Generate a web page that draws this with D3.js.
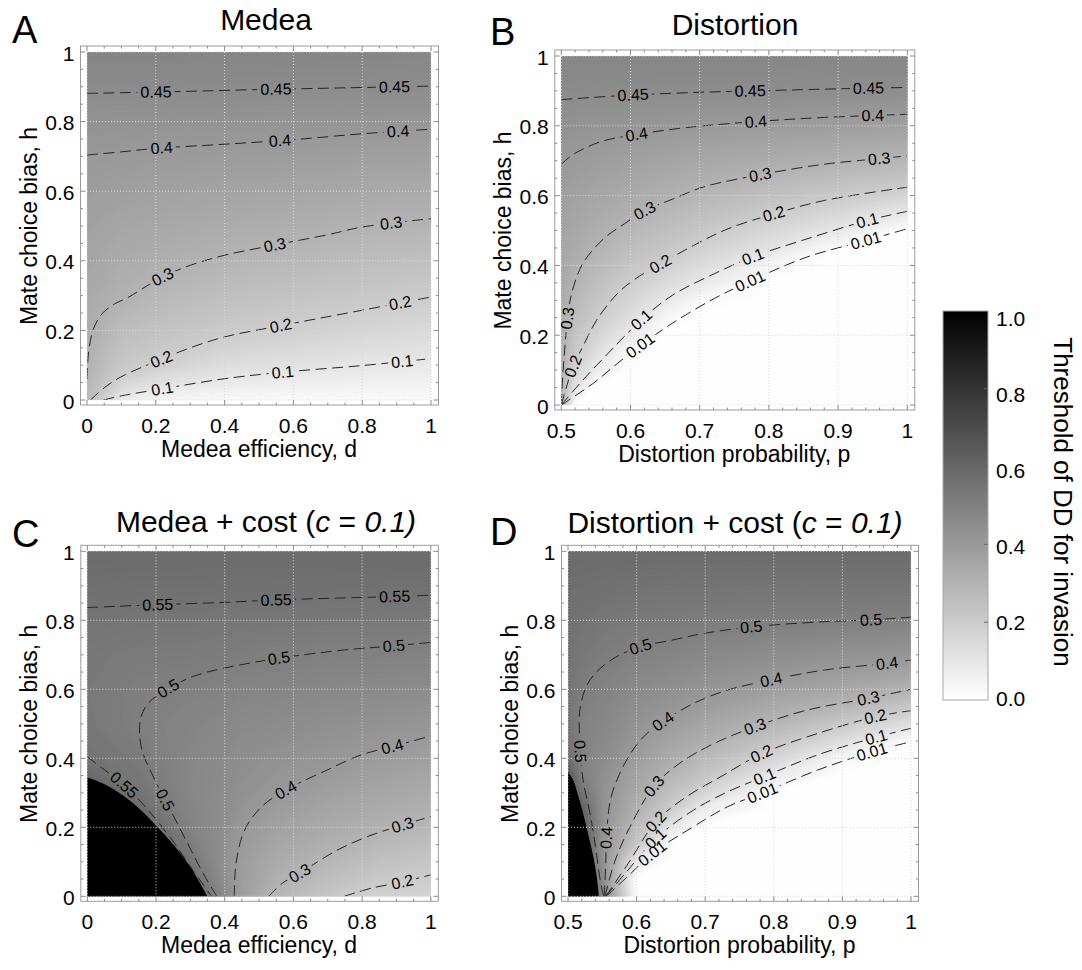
<!DOCTYPE html>
<html>
<head>
<meta charset="utf-8">
<title>Threshold of DD for invasion</title>
<script src="https://cdn.jsdelivr.net/npm/d3@7/dist/d3.min.js"></script>
<style>
  body { margin: 0; background: #ffffff; }
  svg text { font-family: "Liberation Sans", Arial, Helvetica, sans-serif; fill: #000; }
</style>
</head>
<body>
<svg id="chart" width="1082" height="970"></svg>
<script>
// ---------- values ----------

// ticks
var hTicks = [0, 0.2, 0.4, 0.6, 0.8, 1];
var hTickLabels = ["0", "0.2", "0.4", "0.6", "0.8", "1"];
var dTicks = [0, 0.2, 0.4, 0.6, 0.8, 1];
var dTickLabels = ["0", "0.2", "0.4", "0.6", "0.8", "1"];
var pTicks = [0.5, 0.6, 0.7, 0.8, 0.9, 1];
var pTickLabels = ["0.5", "0.6", "0.7", "0.8", "0.9", "1"];
var barTicks = [0, 0.2, 0.4, 0.6, 0.8, 1];
var barTickLabels = ["0.0", "0.2", "0.4", "0.6", "0.8", "1.0"];

// A: Medea. threshold sampled at (d, h), one row per h
var medeaD = [0, 0.1, 0.2, 0.4, 0.6, 0.8, 1];
var medeaH = [0, 0.05, 0.1, 0.15, 0.2, 0.3, 0.4, 0.5, 0.6, 0.7, 0.8, 0.9, 1];
var medeaGrid = [
  [0.28, 0.08, 0.04, 0.025, 0.02, 0.02, 0.02],
  [0.29, 0.17, 0.126, 0.086, 0.071, 0.06, 0.054],
  [0.305, 0.216, 0.188, 0.133, 0.115, 0.1, 0.087],
  [0.312, 0.239, 0.217, 0.174, 0.151, 0.132, 0.117],
  [0.32, 0.263, 0.239, 0.208, 0.186, 0.164, 0.146],
  [0.336, 0.305, 0.282, 0.251, 0.234, 0.218, 0.202],
  [0.352, 0.328, 0.315, 0.293, 0.276, 0.259, 0.246],
  [0.368, 0.351, 0.341, 0.326, 0.315, 0.301, 0.291],
  [0.384, 0.374, 0.368, 0.358, 0.349, 0.338, 0.331],
  [0.40, 0.397, 0.394, 0.389, 0.384, 0.376, 0.37],
  [0.427, 0.426, 0.424, 0.421, 0.418, 0.413, 0.409],
  [0.455, 0.455, 0.455, 0.453, 0.452, 0.451, 0.449],
  [0.48, 0.48, 0.48, 0.478, 0.477, 0.476, 0.475]
];
var medeaLines = [
  { level: "0.45", pts: [[0, 0.881], [0.25, 0.886], [0.5, 0.892], [0.75, 0.897], [1, 0.902]],
    at: [[0.2, 0.885], [0.55, 0.892], [0.895, 0.9]] },
  { level: "0.4", pts: [[0, 0.704], [0.1, 0.713], [0.2, 0.723], [0.4, 0.735], [0.6, 0.748], [0.8, 0.765], [1, 0.778]],
    at: [[0.218, 0.724], [0.56, 0.75], [0.906, 0.772]] },
  { level: "0.3", pts: [[0, 0.06], [0.005, 0.14], [0.019, 0.205], [0.044, 0.248], [0.08, 0.276], [0.118, 0.294], [0.218, 0.353],
      [0.3, 0.387], [0.4, 0.416], [0.544, 0.445], [0.7, 0.475], [0.8, 0.497], [1, 0.521]],
    at: [[0.218, 0.353], [0.544, 0.445], [0.886, 0.508]] },
  { level: "0.2", pts: [[0.01, 0], [0.05, 0.035], [0.098, 0.066], [0.218, 0.118], [0.3, 0.15], [0.399, 0.181], [0.565, 0.214],
      [0.8, 0.258], [1, 0.296]],
    at: [[0.218, 0.118], [0.565, 0.214], [0.911, 0.28]] },
  { level: "0.1", pts: [[0.048, 0], [0.1, 0.012], [0.218, 0.032], [0.399, 0.061], [0.57, 0.08], [0.8, 0.099], [1, 0.119]],
    at: [[0.218, 0.032], [0.57, 0.08], [0.916, 0.11]] }
];

// B: Distortion
var distP = [0.5, 0.52, 0.55, 0.6, 0.65, 0.7, 0.8, 0.9, 1];
var distH = [0, 0.05, 0.1, 0.15, 0.2, 0.25, 0.3, 0.35, 0.4, 0.45, 0.5, 0.55, 0.6, 0.65, 0.7, 0.8, 0.9, 1];
var distGrid = [
  [0.30, 0, 0, 0, 0, 0, 0, 0, 0],
  [0.30, 0.105, 0.005, 0, 0, 0, 0, 0, 0],
  [0.305, 0.166, 0.08, 0, 0, 0, 0, 0, 0],
  [0.31, 0.21, 0.132, 0.012, 0, 0, 0, 0, 0],
  [0.315, 0.232, 0.17, 0.079, 0, 0, 0, 0, 0],
  [0.32, 0.255, 0.205, 0.125, 0.038, 0, 0, 0, 0],
  [0.328, 0.277, 0.229, 0.161, 0.096, 0.028, 0, 0, 0],
  [0.335, 0.30, 0.253, 0.196, 0.143, 0.092, 0, 0, 0],
  [0.343, 0.313, 0.276, 0.226, 0.189, 0.14, 0.038, 0, 0],
  [0.35, 0.327, 0.30, 0.254, 0.222, 0.185, 0.11, 0.012, 0],
  [0.357, 0.34, 0.317, 0.283, 0.252, 0.222, 0.158, 0.095, 0.003],
  [0.365, 0.354, 0.334, 0.308, 0.281, 0.254, 0.206, 0.153, 0.091],
  [0.375, 0.367, 0.35, 0.329, 0.309, 0.287, 0.247, 0.208, 0.165],
  [0.388, 0.381, 0.367, 0.349, 0.333, 0.316, 0.288, 0.257, 0.229],
  [0.401, 0.394, 0.384, 0.37, 0.357, 0.344, 0.324, 0.305, 0.284],
  [0.43, 0.425, 0.419, 0.412, 0.405, 0.399, 0.39, 0.381, 0.372],
  [0.455, 0.455, 0.452, 0.451, 0.45, 0.45, 0.449, 0.446, 0.443],
  [0.475, 0.475, 0.475, 0.475, 0.475, 0.475, 0.475, 0.47, 0.47]
];
var distLines = [
  { level: "0.45", pts: [[0.5, 0.875], [0.55, 0.882], [0.6, 0.888], [0.7, 0.896], [0.8, 0.901], [0.9, 0.906], [1, 0.91]],
    at: [[0.604, 0.889], [0.773, 0.9], [0.945, 0.907]] },
  { level: "0.4", pts: [[0.5, 0.69], [0.515, 0.715], [0.531, 0.733], [0.561, 0.757], [0.609, 0.775], [0.681, 0.795],
      [0.781, 0.812], [0.88, 0.824], [1, 0.833]],
    at: [[0.609, 0.775], [0.781, 0.812], [0.95, 0.829]] },
  { level: "0.3", pts: [[0.5, 0], [0.502, 0.08], [0.505, 0.16], [0.509, 0.25], [0.515, 0.32], [0.531, 0.405], [0.561, 0.476],
      [0.591, 0.519], [0.621, 0.557], [0.661, 0.59], [0.706, 0.625], [0.788, 0.66], [0.88, 0.69], [0.96, 0.706], [1, 0.714]],
    at: [[0.509, 0.25], [0.621, 0.557], [0.788, 0.66], [0.96, 0.706]] },
  { level: "0.2", pts: [[0.5, 0], [0.508, 0.055], [0.517, 0.11], [0.531, 0.167], [0.551, 0.243], [0.581, 0.319], [0.606, 0.36],
      [0.644, 0.405], [0.691, 0.457], [0.741, 0.505], [0.808, 0.548], [0.88, 0.586], [1, 0.624]],
    at: [[0.517, 0.11], [0.644, 0.405], [0.808, 0.548]] },
  { level: "0.1", pts: [[0.5, 0], [0.531, 0.071], [0.571, 0.155], [0.616, 0.245], [0.661, 0.315], [0.721, 0.376], [0.776, 0.424],
      [0.855, 0.476], [0.943, 0.529], [1, 0.555]],
    at: [[0.616, 0.245], [0.776, 0.424], [0.943, 0.529]] },
  { level: "0.01", pts: [[0.5, 0], [0.546, 0.062], [0.581, 0.119], [0.614, 0.17], [0.661, 0.235], [0.721, 0.305], [0.773, 0.355],
      [0.855, 0.424], [0.94, 0.471], [1, 0.505]],
    at: [[0.614, 0.17], [0.773, 0.355], [0.94, 0.471]] }
];

// C: Medea + cost
var medeaCostD = [0, 0.15, 0.3, 0.38, 0.45, 0.55, 0.7, 0.85, 1];
var medeaCostH = [0, 0.1, 0.2, 0.3, 0.4, 0.5, 0.6, 0.7, 0.8, 0.9, 1];
var medeaCostGrid = [
  [0.65, 0.62, 0.62, 0.49, 0.378, 0.29, 0.222, 0.18, 0.17],
  [0.65, 0.62, 0.54, 0.45, 0.385, 0.329, 0.285, 0.246, 0.222],
  [0.65, 0.62, 0.488, 0.45, 0.402, 0.367, 0.332, 0.307, 0.282],
  [0.63, 0.544, 0.472, 0.455, 0.43, 0.405, 0.373, 0.348, 0.329],
  [0.552, 0.518, 0.472, 0.46, 0.445, 0.428, 0.41, 0.39, 0.372],
  [0.53, 0.50, 0.48, 0.47, 0.46, 0.453, 0.438, 0.426, 0.413],
  [0.525, 0.505, 0.495, 0.488, 0.48, 0.478, 0.467, 0.459, 0.45],
  [0.53, 0.52, 0.517, 0.513, 0.507, 0.503, 0.496, 0.493, 0.487],
  [0.545, 0.54, 0.54, 0.537, 0.535, 0.533, 0.529, 0.526, 0.523],
  [0.565, 0.562, 0.562, 0.56, 0.558, 0.56, 0.558, 0.557, 0.556],
  [0.58, 0.58, 0.58, 0.58, 0.58, 0.58, 0.58, 0.58, 0.58]
];
// no invasion (threshold 1) below this edge
var medeaCostBlack = [[0, 0.345], [0.05, 0.325], [0.1, 0.295], [0.15, 0.255], [0.2, 0.205], [0.25, 0.15], [0.3, 0.085], [0.35, 0]];
var medeaCostLines = [
  { level: "0.55", pts: [[0, 0.837], [0.2, 0.845], [0.4, 0.852], [0.55, 0.859], [0.75, 0.865], [0.9, 0.869], [1, 0.873]],
    at: [[0.207, 0.844], [0.548, 0.859], [0.894, 0.868]] },
  { level: "0.5", pts: [[0.377, 0], [0.337, 0.067], [0.287, 0.163], [0.227, 0.279], [0.187, 0.357], [0.162, 0.414], [0.152, 0.472],
      [0.157, 0.521], [0.177, 0.559], [0.237, 0.603], [0.307, 0.637], [0.397, 0.661], [0.558, 0.69], [0.749, 0.714],
      [0.894, 0.726], [1, 0.736]],
    at: [[0.227, 0.279], [0.237, 0.603], [0.558, 0.69], [0.894, 0.726]] },
  { level: "0.55", pts: [[0, 0.405], [0.037, 0.376], [0.107, 0.323], [0.177, 0.25], [0.247, 0.163], [0.307, 0.076], [0.362, 0]],
    at: [[0.107, 0.323]] },
  { level: "0.4", pts: [[0.428, 0], [0.433, 0.096], [0.458, 0.192], [0.508, 0.26], [0.578, 0.308], [0.698, 0.366], [0.798, 0.41],
      [0.889, 0.434], [1, 0.465]],
    at: [[0.578, 0.308], [0.889, 0.434]] },
  { level: "0.3", pts: [[0.528, 0], [0.568, 0.038], [0.618, 0.067], [0.728, 0.134], [0.829, 0.178], [0.919, 0.207], [1, 0.231]],
    at: [[0.618, 0.067], [0.919, 0.207]] },
  { level: "0.2", pts: [[0.748, 0], [0.829, 0.024], [0.919, 0.042], [1, 0.062]],
    at: [[0.919, 0.042]] }
];

// D: Distortion + cost
var distCostP = [0.5, 0.52, 0.55, 0.6, 0.65, 0.7, 0.8, 0.9, 1];
var distCostH = [0, 0.05, 0.1, 0.15, 0.2, 0.25, 0.3, 0.35, 0.4, 0.45, 0.5, 0.55, 0.6, 0.65, 0.7, 0.8, 0.9, 1];
var distCostGrid = [
  [0.65, 0.65, 0.50, 0, 0, 0, 0, 0, 0],
  [0.65, 0.65, 0.457, 0, 0, 0, 0, 0, 0],
  [0.65, 0.65, 0.433, 0.084, 0, 0, 0, 0, 0],
  [0.65, 0.65, 0.428, 0.218, 0.005, 0, 0, 0, 0],
  [0.65, 0.65, 0.427, 0.267, 0.1, 0, 0, 0, 0],
  [0.65, 0.62, 0.434, 0.308, 0.196, 0.065, 0, 0, 0],
  [0.65, 0.55, 0.434, 0.333, 0.243, 0.162, 0, 0, 0],
  [0.65, 0.50, 0.44, 0.358, 0.288, 0.228, 0.084, 0, 0],
  [0.57, 0.49, 0.455, 0.383, 0.324, 0.274, 0.162, 0.031, 0],
  [0.55, 0.488, 0.463, 0.405, 0.356, 0.315, 0.229, 0.13, 0.015],
  [0.545, 0.49, 0.473, 0.423, 0.387, 0.35, 0.289, 0.211, 0.125],
  [0.54, 0.497, 0.48, 0.44, 0.414, 0.385, 0.334, 0.286, 0.219],
  [0.54, 0.51, 0.488, 0.458, 0.436, 0.415, 0.376, 0.34, 0.30],
  [0.54, 0.52, 0.497, 0.476, 0.459, 0.441, 0.414, 0.389, 0.359],
  [0.545, 0.53, 0.51, 0.493, 0.481, 0.467, 0.446, 0.428, 0.412],
  [0.555, 0.548, 0.535, 0.523, 0.518, 0.512, 0.505, 0.501, 0.493],
  [0.567, 0.565, 0.56, 0.552, 0.549, 0.546, 0.543, 0.54, 0.537],
  [0.58, 0.58, 0.58, 0.58, 0.58, 0.58, 0.58, 0.58, 0.58]
];
var distCostBlack = [[0.5, 0.36], [0.508, 0.335], [0.515, 0.29], [0.522, 0.241], [0.53, 0.175], [0.537, 0.115], [0.542, 0.055], [0.545, 0]];
var distCostLines = [
  { level: "0.5", pts: [[0.552, 0], [0.547, 0.047], [0.54, 0.144], [0.532, 0.241], [0.522, 0.337], [0.517, 0.45], [0.518, 0.55],
      [0.532, 0.627], [0.563, 0.685], [0.605, 0.723], [0.653, 0.743], [0.698, 0.762], [0.768, 0.781], [0.874, 0.796],
      [0.941, 0.801], [1, 0.809]],
    at: [[0.519, 0.42], [0.605, 0.723], [0.768, 0.781], [0.941, 0.801]] },
  { level: "0.4", pts: [[0.553, 0], [0.555, 0.096], [0.556, 0.17], [0.563, 0.289], [0.583, 0.386], [0.608, 0.458], [0.638, 0.506],
      [0.683, 0.559], [0.733, 0.598], [0.796, 0.627], [0.874, 0.656], [0.964, 0.675], [1, 0.685]],
    at: [[0.556, 0.17], [0.638, 0.506], [0.796, 0.627], [0.964, 0.675]] },
  { level: "0.3", pts: [[0.554, 0], [0.568, 0.1], [0.59, 0.2], [0.625, 0.318], [0.663, 0.386], [0.713, 0.443], [0.773, 0.492],
      [0.849, 0.54], [0.939, 0.574], [1, 0.6]],
    at: [[0.625, 0.318], [0.773, 0.492], [0.939, 0.574]] },
  { level: "0.2", pts: [[0.555, 0], [0.588, 0.096], [0.628, 0.216], [0.673, 0.289], [0.723, 0.347], [0.783, 0.414], [0.864, 0.472],
      [0.949, 0.521], [1, 0.538]],
    at: [[0.628, 0.216], [0.783, 0.414], [0.949, 0.521]] },
  { level: "0.1", pts: [[0.555, 0], [0.585, 0.07], [0.628, 0.168], [0.683, 0.25], [0.733, 0.303], [0.786, 0.347], [0.864, 0.41],
      [0.949, 0.461], [1, 0.487]],
    at: [[0.628, 0.168], [0.786, 0.347], [0.949, 0.461]] },
  { level: "0.01", pts: [[0.556, 0], [0.592, 0.067], [0.623, 0.125], [0.683, 0.202], [0.733, 0.26], [0.783, 0.299], [0.864, 0.366],
      [0.944, 0.419], [1, 0.448]],
    at: [[0.623, 0.125], [0.783, 0.299], [0.944, 0.419]] }
];

// ---------- layout ----------
var W = 1082, H = 970;

var panels = [
  { key: "A", letter: "A", letterAt: [12, 43], title: [["Medea", false]], titleAt: [266, 30],
    xTitle: "Medea efficiency, d", xDomain: [0, 1], xTicks: dTicks, xTickLabels: dTickLabels, xMinor: 0.05,
    box: [87, 52, 431, 400], cols: medeaD, rows: medeaH, grid: medeaGrid, lines: medeaLines },
  { key: "B", letter: "B", letterAt: [490, 45], title: [["Distortion", false]], titleAt: [735, 35],
    xTitle: "Distortion probability, p", xDomain: [0.5, 1], xTicks: pTicks, xTickLabels: pTickLabels, xMinor: 0.02,
    box: [561.3, 56, 907.3, 405], cols: distP, rows: distH, grid: distGrid, lines: distLines },
  { key: "C", letter: "C", letterAt: [12, 547],
    title: [["Medea + cost (", false], ["c", true], [" = ", false], ["0.1)", true]], titleAt: [266, 532],
    xTitle: "Medea efficiency, d", xDomain: [0, 1], xTicks: dTicks, xTickLabels: dTickLabels, xMinor: 0.05,
    box: [87.3, 551.3, 430.8, 896.3], cols: medeaCostD, rows: medeaCostH, grid: medeaCostGrid, lines: medeaCostLines,
    black: medeaCostBlack, blackCorner: [0, 0] },
  { key: "D", letter: "D", letterAt: [490, 545],
    title: [["Distortion + cost (", false], ["c", true], [" = ", false], ["0.1)", true]], titleAt: [735, 533],
    xTitle: "Distortion probability, p", xDomain: [0.5, 1], xTicks: pTicks, xTickLabels: pTickLabels, xMinor: 0.02,
    box: [568, 551.3, 911, 896.3], cols: distCostP, rows: distCostH, grid: distCostGrid, lines: distCostLines,
    black: distCostBlack, blackCorner: [0.5, 0] }
];

var svg = d3.select("#chart");
var defs = svg.append("defs");
svg.append("rect").attr("width", W).attr("height", H).attr("fill", "#ffffff");

var shade = d3.scaleLinear().domain([0, 1]).range(["#ffffff", "#000000"]).clamp(true);
var step = 0.005;
var levels = d3.range(0, 1, step);

panels.forEach(drawPanel);
drawColorBar();

// closest point of a drawn path to a target, with the local direction for the label
function nearestOnPath(node, target) {
  var len = node.getTotalLength(), best = 0, bestD = Infinity;
  for (var s = 0; s <= len; s += 1.5) {
    var p = node.getPointAtLength(s);
    var dd = (p.x - target[0]) * (p.x - target[0]) + (p.y - target[1]) * (p.y - target[1]);
    if (dd < bestD) { bestD = dd; best = s; }
  }
  var pt = node.getPointAtLength(best);
  var a = node.getPointAtLength(Math.max(0, best - 5));
  var b = node.getPointAtLength(Math.min(len, best + 5));
  var ang = Math.atan2(b.y - a.y, b.x - a.x) * 180 / Math.PI;
  if (ang > 90) ang -= 180;
  if (ang < -90) ang += 180;
  return { x: pt.x, y: pt.y, angle: ang };
}

function drawPanel(pn) {
  var x = d3.scaleLinear().domain(pn.xDomain).range([pn.box[0], pn.box[2]]);
  var y = d3.scaleLinear().domain([0, 1]).range([pn.box[3], pn.box[1]]);
  var fr = [pn.box[0] - 6.5, pn.box[1] - 6, pn.box[2] + 7.5, pn.box[3] + 5];
  var g = svg.append("g").attr("class", "panel panel-" + pn.key);

  var clipId = "clip-" + pn.key;
  defs.append("clipPath").attr("id", clipId).append("rect")
      .attr("x", pn.box[0]).attr("y", pn.box[1])
      .attr("width", pn.box[2] - pn.box[0]).attr("height", pn.box[3] - pn.box[1]);
  var plot = g.append("g").attr("clip-path", "url(#" + clipId + ")");

  // density: filled contour bands of the sampled grid (grid cell i sits at i + 0.5)
  var nx = pn.cols.length, ny = pn.rows.length;
  var colAt = d3.scaleLinear().domain(d3.range(nx).map(function(i) { return i + 0.5; })).range(pn.cols).clamp(true);
  var rowAt = d3.scaleLinear().domain(d3.range(ny).map(function(j) { return j + 0.5; })).range(pn.rows).clamp(true);
  var toScreen = d3.geoTransform({
    point: function(px, py) { this.stream.point(x(colAt(px)), y(rowAt(py))); }
  });
  var geo = d3.geoPath(toScreen);
  var values = [].concat.apply([], pn.grid);
  var bands = d3.contours().size([nx, ny]).thresholds(levels)(values);

  plot.append("g").attr("class", "bands")
    .selectAll("path")
    .data(bands)
    .enter().append("path")
      .attr("d", geo)
      .attr("fill", function(d) { return shade(d.value + step / 2); });

  // no-invasion area
  if (pn.black) {
    var edge = d3.line().x(function(d) { return x(d[0]); }).y(function(d) { return y(d[1]); }).curve(d3.curveCatmullRom);
    plot.append("path")
        .attr("d", edge(pn.black) + "L" + x(pn.blackCorner[0]) + "," + y(pn.blackCorner[1]) + "Z")
        .attr("fill", "#000000");
  }

  // dotted grid
  var grid = g.append("g").attr("class", "grid")
      .attr("stroke", "#d6d6d6").attr("stroke-width", 1).attr("stroke-dasharray", "1,2");
  pn.xTicks.forEach(function(v) {
    grid.append("line").attr("x1", x(v)).attr("x2", x(v)).attr("y1", pn.box[1]).attr("y2", pn.box[3]);
  });
  hTicks.forEach(function(v) {
    grid.append("line").attr("x1", pn.box[0]).attr("x2", pn.box[2]).attr("y1", y(v)).attr("y2", y(v));
  });

  // dashed contour lines, with a gap under each label
  var maskId = "mask-" + pn.key;
  var mask = defs.append("mask").attr("id", maskId).attr("maskUnits", "userSpaceOnUse")
      .attr("x", 0).attr("y", 0).attr("width", W).attr("height", H);
  mask.append("rect").attr("width", W).attr("height", H).attr("fill", "#ffffff");

  var lineGen = d3.line()
      .x(function(d) { return x(d[0]); })
      .y(function(d) { return y(d[1]); })
      .curve(d3.curveCatmullRom.alpha(0.5));
  var lineLayer = plot.append("g").attr("mask", "url(#" + maskId + ")");
  var labelLayer = g.append("g").attr("class", "contour-labels");

  pn.lines.forEach(function(c) {
    var path = lineLayer.append("path")
        .attr("d", lineGen(c.pts))
        .attr("fill", "none")
        .attr("stroke", "#242424")
        .attr("stroke-width", 1)
        .attr("stroke-dasharray", "11,5.5");
    c.at.forEach(function(t) {
      var spot = nearestOnPath(path.node(), [x(t[0]), y(t[1])]);
      var tr = "translate(" + spot.x + "," + spot.y + ") rotate(" + spot.angle + ")";
      var txt = labelLayer.append("text")
          .attr("transform", tr)
          .attr("text-anchor", "middle")
          .attr("dominant-baseline", "central")
          .style("font-size", "16px")
          .text(c.level);
      var w = txt.node().getComputedTextLength();
      mask.append("rect")
          .attr("transform", tr)
          .attr("x", -w / 2 - 3).attr("y", -7)
          .attr("width", w + 6).attr("height", 14)
          .attr("fill", "#000000");
    });
  });

  // frame and ticks
  g.append("rect")
      .attr("x", fr[0]).attr("y", fr[1])
      .attr("width", fr[2] - fr[0]).attr("height", fr[3] - fr[1])
      .attr("fill", "none").attr("stroke", "#9c9c9c").attr("stroke-width", 1);

  var ticks = g.append("g").attr("stroke", "#8a8a8a").attr("stroke-width", 1);
  var nMinorX = Math.round((pn.xDomain[1] - pn.xDomain[0]) / pn.xMinor);
  d3.range(nMinorX + 1).forEach(function(i) {
    var v = pn.xDomain[0] + i * pn.xMinor;
    var major = pn.xTicks.some(function(t) { return Math.abs(t - v) < 1e-6; });
    var len = major ? 5 : 2.5;
    ticks.append("line").attr("x1", x(v)).attr("x2", x(v)).attr("y1", fr[3]).attr("y2", fr[3] - len);
    ticks.append("line").attr("x1", x(v)).attr("x2", x(v)).attr("y1", fr[1]).attr("y2", fr[1] + len);
  });
  d3.range(21).forEach(function(i) {
    var v = i * 0.05;
    var major = i % 4 === 0;
    var len = major ? 5 : 2.5;
    ticks.append("line").attr("y1", y(v)).attr("y2", y(v)).attr("x1", fr[0]).attr("x2", fr[0] + len);
    ticks.append("line").attr("y1", y(v)).attr("y2", y(v)).attr("x1", fr[2]).attr("x2", fr[2] - len);
  });

  // tick labels
  g.append("g").selectAll("text")
    .data(pn.xTicks)
    .enter().append("text")
      .attr("x", function(d) { return x(d); })
      .attr("y", pn.box[3] + 33)
      .attr("text-anchor", "middle")
      .style("font-size", "21px")
      .text(function(d, i) { return pn.xTickLabels[i]; });

  g.append("g").selectAll("text")
    .data(hTicks)
    .enter().append("text")
      .attr("x", fr[0] - 6)
      .attr("y", function(d) { return y(d) + 1; })
      .attr("text-anchor", "end")
      .attr("dominant-baseline", "central")
      .style("font-size", "21px")
      .text(function(d, i) { return hTickLabels[i]; });

  // axis titles
  g.append("text")
      .attr("x", (pn.box[0] + pn.box[2]) / 2)
      .attr("y", pn.box[3] + 57)
      .attr("text-anchor", "middle")
      .style("font-size", "23px")
      .text(pn.xTitle);

  g.append("text")
      .attr("transform", "translate(" + (pn.box[0] - 50) + "," + ((pn.box[1] + pn.box[3]) / 2) + ") rotate(-90)")
      .attr("text-anchor", "middle")
      .style("font-size", "23px")
      .text("Mate choice bias, h");

  // panel title and letter
  var title = g.append("text")
      .attr("x", pn.titleAt[0]).attr("y", pn.titleAt[1])
      .attr("text-anchor", "middle")
      .style("font-size", "30px");
  pn.title.forEach(function(part) {
    title.append("tspan").style("font-style", part[1] ? "italic" : "normal").text(part[0]);
  });

  g.append("text")
      .attr("x", pn.letterAt[0]).attr("y", pn.letterAt[1])
      .style("font-size", "38px")
      .text(pn.letter);
}

function drawColorBar() {
  var bx0 = 943, bx1 = 988;
  var by = d3.scaleLinear().domain([0, 1]).range([700, 311]);
  var labelY = d3.scaleLinear().domain([0, 1]).range([698, 318]);

  var grad = defs.append("linearGradient").attr("id", "bar-grad")
      .attr("x1", 0).attr("y1", 1).attr("x2", 0).attr("y2", 0);
  d3.range(0, 1.0001, 0.1).forEach(function(v) {
    grad.append("stop").attr("offset", v).attr("stop-color", shade(v));
  });

  var cb = svg.append("g").attr("class", "colorbar");
  cb.append("rect")
      .attr("x", bx0).attr("y", by(1))
      .attr("width", bx1 - bx0).attr("height", by(0) - by(1))
      .attr("fill", "url(#bar-grad)")
      .attr("stroke", "#a8a8a8").attr("stroke-width", 1);

  cb.selectAll("line.tick")
    .data(barTicks.slice(1, -1))
    .enter().append("line")
      .attr("class", "tick")
      .attr("x1", bx1 - 4).attr("x2", bx1)
      .attr("y1", function(d) { return by(d); })
      .attr("y2", function(d) { return by(d); })
      .attr("stroke", "#666666");

  cb.selectAll("text.lab")
    .data(barTicks)
    .enter().append("text")
      .attr("class", "lab")
      .attr("x", 996)
      .attr("y", function(d) { return labelY(d); })
      .attr("dominant-baseline", "central")
      .style("font-size", "21px")
      .text(function(d, i) { return barTickLabels[i]; });

  cb.append("text")
      .attr("transform", "translate(1054,502) rotate(90)")
      .attr("text-anchor", "middle")
      .style("font-size", "26px")
      .text("Threshold of DD for invasion");
}
</script>
</body>
</html>
